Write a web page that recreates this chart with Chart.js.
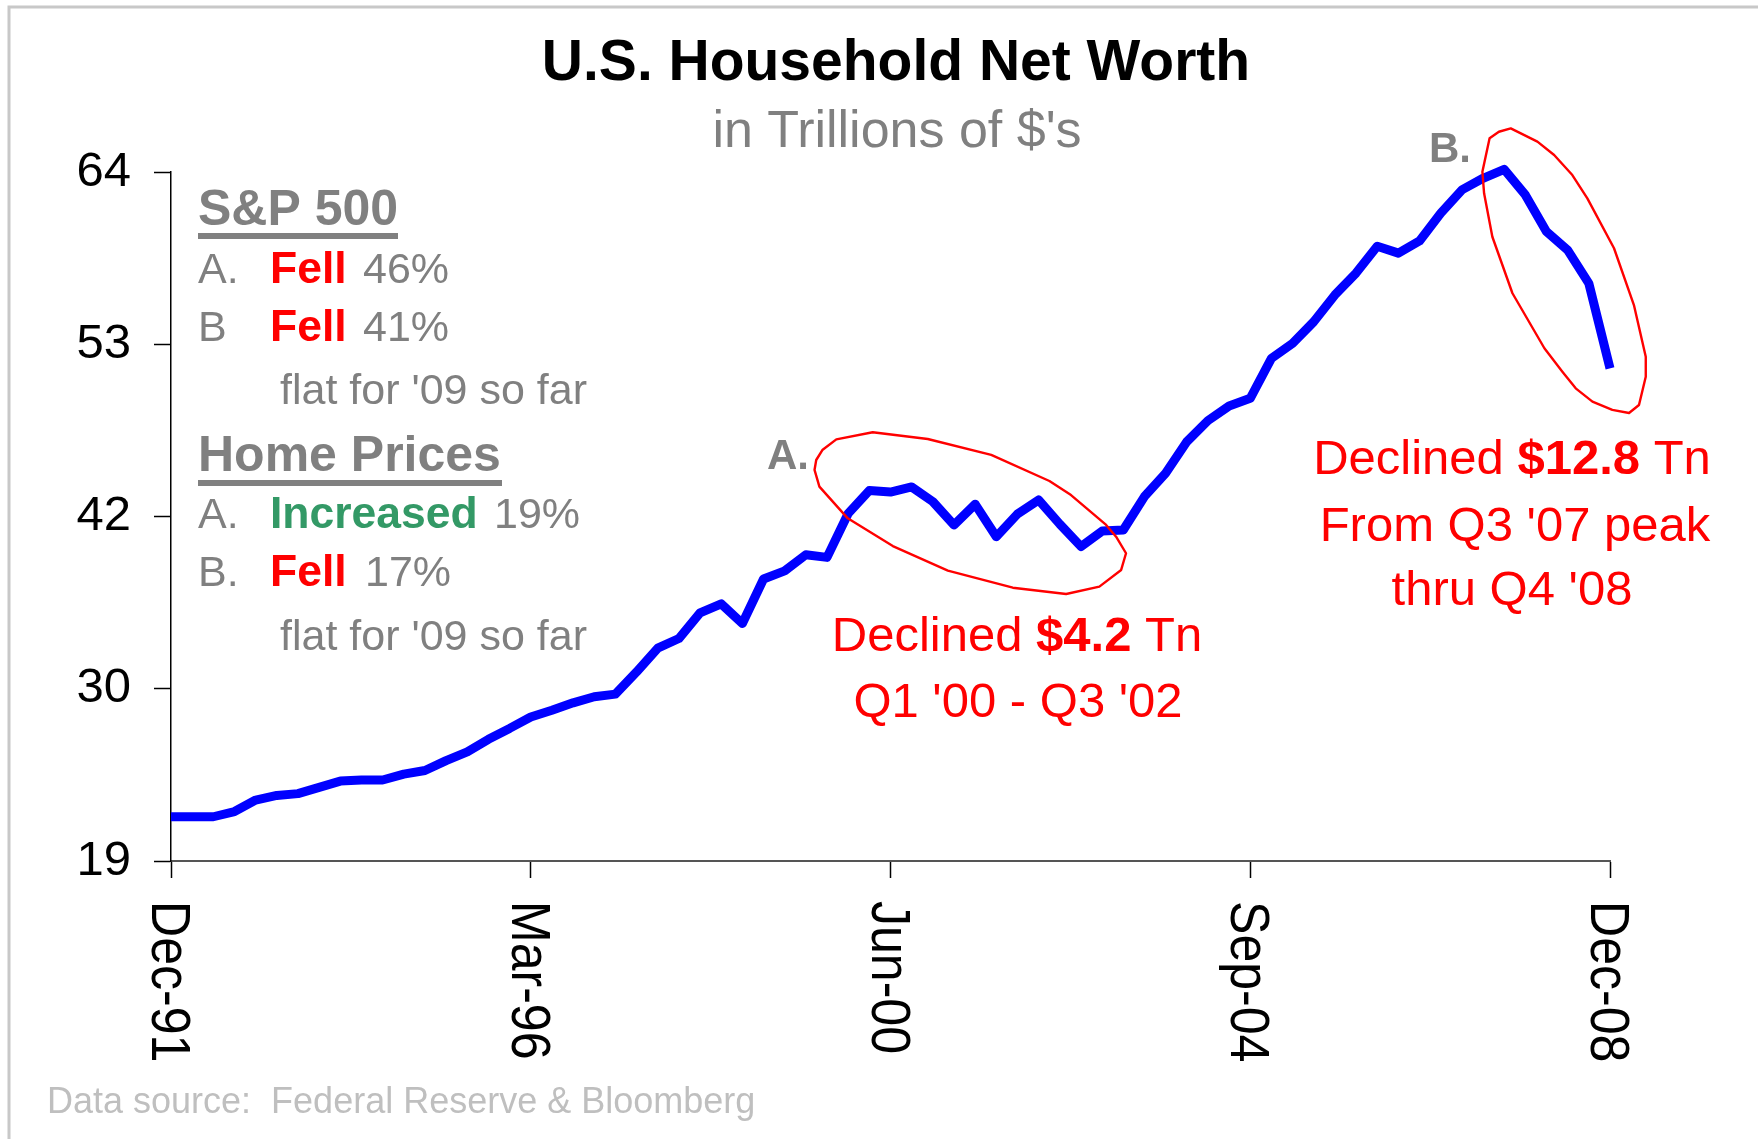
<!DOCTYPE html>
<html><head><meta charset="utf-8">
<script src="https://cdn.jsdelivr.net/npm/chart.js@4.4.1/dist/chart.umd.min.js"></script>
<style>html,body{margin:0;padding:0;background:#fff;}#wrap{width:1758px;height:1139px;}</style>
</head><body><div id="wrap"><canvas id="c" width="1758" height="1139"></canvas></div>
<script>
// ---- data ----
const quarters = [
 'Dec-91',
 'Mar-92','Jun-92','Sep-92','Dec-92',
 'Mar-93','Jun-93','Sep-93','Dec-93',
 'Mar-94','Jun-94','Sep-94','Dec-94',
 'Mar-95','Jun-95','Sep-95','Dec-95',
 'Mar-96','Jun-96','Sep-96','Dec-96',
 'Mar-97','Jun-97','Sep-97','Dec-97',
 'Mar-98','Jun-98','Sep-98','Dec-98',
 'Mar-99','Jun-99','Sep-99','Dec-99',
 'Mar-00','Jun-00','Sep-00','Dec-00',
 'Mar-01','Jun-01','Sep-01','Dec-01',
 'Mar-02','Jun-02','Sep-02','Dec-02',
 'Mar-03','Jun-03','Sep-03','Dec-03',
 'Mar-04','Jun-04','Sep-04','Dec-04',
 'Mar-05','Jun-05','Sep-05','Dec-05',
 'Mar-06','Jun-06','Sep-06','Dec-06',
 'Mar-07','Jun-07','Sep-07','Dec-07',
 'Mar-08','Jun-08','Sep-08','Dec-08'
];
const netWorth = [
 21.89,
 21.89, 21.89, 22.23, 22.98,
 23.28, 23.40, 23.81, 24.22,
 24.29, 24.29, 24.67, 24.91,
 25.56, 26.13, 26.95, 27.66,
 28.41, 28.85, 29.33, 29.73,
 29.90, 31.35, 32.90, 33.53,
 35.20, 35.79, 34.51, 37.42,
 37.95, 39.00, 38.83, 41.70,
 43.20, 43.10, 43.43, 42.47,
 40.95, 42.30, 40.18, 41.66,
 42.58, 41.00, 39.54, 40.55,
 40.62, 42.80, 44.33, 46.38,
 47.76, 48.72, 49.22, 51.83,
 52.81, 54.22, 55.97, 57.40,
 59.15, 58.70, 59.50, 61.30,
 62.83, 63.59, 64.17, 62.50,
 60.10, 58.90, 56.73, 51.18
];
const xTickLabels = ['Dec-91','Mar-96','Jun-00','Sep-04','Dec-08'];
const yTickValues = [19, 30.25, 41.5, 52.75, 64];
const yTickLabels = ['19','30','42','53','64'];
// annotation outlines in data units [quarter index, trillions]
const ellipseA = [[30.41,44.54],[30.49,45.19],[30.78,45.84],[31.44,46.54],[33.16,47.0],[35.76,46.56],[38.76,45.52],[41.51,43.82],[42.53,42.9],[44.19,40.95],[44.66,40.18],[45.13,39.1],[44.9,38.01],[43.87,36.92],[42.3,36.44],[39.78,36.85],[36.71,37.96],[34.11,39.57],[31.98,41.38],[30.64,43.45]];
const ellipseB = [[63.31,66.85],[64.57,65.98],[65.36,65.11],[66.22,63.8],[66.93,62.28],[68.19,59.02],[69.13,55.31],[69.69,51.94],[69.69,50.63],[69.37,48.78],[68.9,48.26],[68.11,48.46],[67.17,49.0],[66.38,49.87],[65.75,50.96],[64.9,52.49],[63.39,56.08],[62.44,59.77],[62.05,62.61],[61.97,64.02],[62.31,66.2],[62.75,66.63]];

// ---- styles ----
const FONT = '"Liberation Sans", Arial, Helvetica, sans-serif';
const GRAY = '#808080', RED = '#FF0000', GREEN = '#339966';

function f(size, bold){ return (bold ? 'bold ' : '') + size + 'px ' + FONT; }
function drawParts(ctx, parts, x, y){ // parts: [text, font, color, xAbs?]
  let cx = x;
  parts.forEach(p => {
    ctx.font = p[1]; ctx.fillStyle = p[2];
    if (p[3] !== undefined) cx = p[3];
    ctx.fillText(p[0], cx, y);
    cx += ctx.measureText(p[0]).width;
  });
}
function drawCentered(ctx, parts, cx, y){
  let w = 0;
  parts.forEach(p => { ctx.font = p[1]; w += ctx.measureText(p[0]).width; });
  drawParts(ctx, parts, cx - w/2, y);
}

const annot = {
  id: 'annot',
  afterDatasetsDraw(chart){
    const ctx = chart.ctx, xs = chart.scales.x, ys = chart.scales.y;
    ctx.save();
    ctx.strokeStyle = RED; ctx.lineWidth = 2.4; ctx.lineJoin = 'round';
    [ellipseA, ellipseB].forEach(poly => {
      ctx.beginPath();
      poly.forEach((p,i) => {
        const px = xs.getPixelForValue(p[0]), py = ys.getPixelForValue(p[1]);
        if (i === 0) ctx.moveTo(px, py); else ctx.lineTo(px, py);
      });
      ctx.closePath(); ctx.stroke();
    });
    ctx.restore();
  },
  afterDraw(chart){
    const ctx = chart.ctx, xs = chart.scales.x;
    ctx.save();
    ctx.textBaseline = 'alphabetic'; ctx.textAlign = 'left';
    // frame
    ctx.strokeStyle = '#C8C8C8'; ctx.lineWidth = 3;
    ctx.beginPath(); ctx.moveTo(9, 1139); ctx.lineTo(9, 7); ctx.lineTo(1758, 7); ctx.stroke();
    // titles
    drawCentered(ctx, [['U.S. Household Net Worth', f(57,true), '#000']], 896, 80);
    drawCentered(ctx, [["in Trillions of $'s", f(52,false), GRAY]], 897, 147);
    // left block
    drawParts(ctx, [['S&P 500', f(50,true), GRAY]], 198, 225);
    ctx.fillStyle = GRAY; ctx.fillRect(198, 233, 200, 6);
    drawParts(ctx, [['A.', f(43,false), GRAY, 198], ['Fell', f(44.5,true), RED, 270], ['46%', f(43,false), GRAY, 363]], 198, 283);
    drawParts(ctx, [['B', f(43,false), GRAY, 198], ['Fell', f(44.5,true), RED, 270], ['41%', f(43,false), GRAY, 363]], 198, 341);
    drawParts(ctx, [["flat for '09 so far", f(43,false), GRAY]], 280, 404);
    drawParts(ctx, [['Home Prices', f(50,true), GRAY]], 198, 471);
    ctx.fillStyle = GRAY; ctx.fillRect(198, 480, 304, 6);
    drawParts(ctx, [['A.', f(43,false), GRAY, 198], ['Increased', f(44.5,true), GREEN, 270], ['19%', f(43,false), GRAY, 494]], 198, 528);
    drawParts(ctx, [['B.', f(43,false), GRAY, 198], ['Fell', f(44.5,true), RED, 270], ['17%', f(43,false), GRAY, 365]], 198, 586);
    drawParts(ctx, [["flat for '09 so far", f(43,false), GRAY]], 280, 650);
    // A. / B. labels
    drawParts(ctx, [['A.', f(42,true), GRAY]], 767, 469);
    drawParts(ctx, [['B.', f(42,true), GRAY]], 1429, 162);
    // red notes
    drawCentered(ctx, [['Declined ', f(49,false), RED], ['$4.2', f(49,true), RED], [' Tn', f(49,false), RED]], 1017, 651);
    drawCentered(ctx, [["Q1 '00 - Q3 '02", f(49,false), RED]], 1018, 717);
    drawCentered(ctx, [['Declined ', f(49,false), RED], ['$12.8', f(49,true), RED], [' Tn', f(49,false), RED]], 1512, 474);
    drawCentered(ctx, [["From Q3 '07 peak", f(49,false), RED]], 1515, 541);
    drawCentered(ctx, [["thru Q4 '08", f(49,false), RED]], 1512, 605);
    // footer
    drawParts(ctx, [['Data source:  Federal Reserve & Bloomberg', f(36,false), '#BFBFBF']], 47, 1113);
    // rotated x tick labels
    ctx.font = f(55,false); ctx.fillStyle = '#000';
    quarters.forEach((q, i) => {
      if (!xTickLabels.includes(q)) return;
      const px = xs.getPixelForValue(i);
      ctx.save();
      ctx.translate(px, 901);
      ctx.rotate(Math.PI/2);
      ctx.scale(0.91, 1);
      ctx.fillText(q, 0, 19);
      ctx.restore();
    });
    ctx.restore();
  }
};

new Chart(document.getElementById('c').getContext('2d'), {
  type: 'line',
  data: { labels: quarters, datasets: [{
    data: netWorth, borderColor: '#0000FF', borderWidth: 9, pointRadius: 0, pointHoverRadius: 0,
    tension: 0, fill: false, clip: false, borderJoinStyle: 'round', borderCapStyle: 'butt'
  }]},
  options: {
    responsive: false, animation: false, devicePixelRatio: 1, events: [],
    layout: { padding: { left: 0, top: 172, right: 148, bottom: 0 } },
    plugins: { legend: { display: false }, title: { display: false }, tooltip: { enabled: false } },
    scales: {
      x: {
        type: 'category', offset: false,
        afterBuildTicks: s => { s.ticks = s.ticks.filter(t => xTickLabels.includes(quarters[t.value])); },
        afterFit: s => { s.height = 278; },
        ticks: { display: false, autoSkip: false },
        grid: { drawOnChartArea: false, drawTicks: true, tickLength: 17, tickColor: '#000', tickWidth: 1.5, offset: false },
        border: { display: true, color: '#555', width: 2 }
      },
      y: {
        min: 19, max: 64,
        afterBuildTicks: s => { s.ticks = yTickValues.map(v => ({ value: v })); },
        afterFit: s => { s.width = 171; },
        ticks: { font: { size: 49, family: FONT }, color: '#000', padding: 23, callback: (v, i) => yTickLabels[i] },
        grid: { drawOnChartArea: false, drawTicks: true, tickLength: 17, tickColor: '#000', tickWidth: 1.5 },
        border: { display: true, color: '#000', width: 1.5 }
      }
    }
  },
  plugins: [annot]
});
</script></body></html>
